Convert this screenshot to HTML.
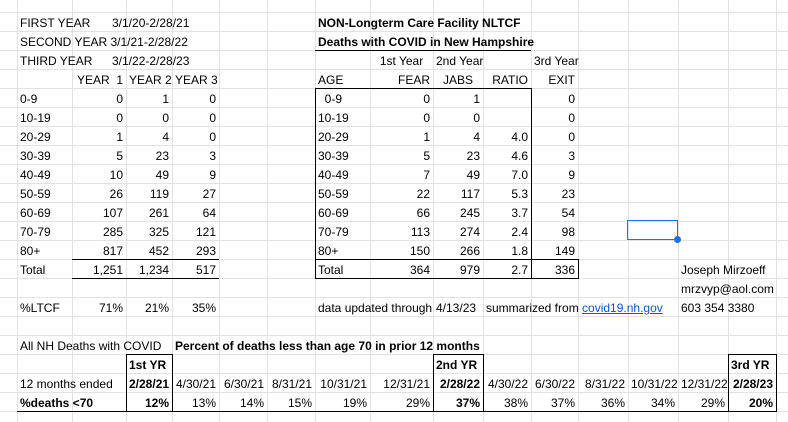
<!DOCTYPE html>
<html><head><meta charset="utf-8">
<style>
html,body{margin:0;padding:0;background:#fff;}
body{width:788px;height:422px;position:relative;overflow:hidden;font-family:"Liberation Sans",Arial,sans-serif;font-size:12px;color:#000;}
.v{position:absolute;top:0;height:422px;width:1px;background:#e2e2e2;}
.h{position:absolute;left:0;width:788px;height:1px;background:#e2e2e2;}
.b{position:absolute;background:#000;}
table{position:absolute;left:0;top:2px;border-collapse:collapse;table-layout:fixed;width:788px;}
td{padding:0 3px;height:19px;line-height:19px;white-space:nowrap;overflow:visible;text-align:left;vertical-align:middle;}
td.r{text-align:right;}
td.c{text-align:center;}
.bd{font-weight:bold;}
a{color:#1155cc;text-decoration:underline;}
</style></head><body>
<div class="v" style="left:17px"></div><div class="v" style="left:72px"></div><div class="v" style="left:126px"></div><div class="v" style="left:172px"></div><div class="v" style="left:219px"></div><div class="v" style="left:267px"></div><div class="v" style="left:315px"></div><div class="v" style="left:370px"></div><div class="v" style="left:433px"></div><div class="v" style="left:483px"></div><div class="v" style="left:531px"></div><div class="v" style="left:578px"></div><div class="v" style="left:628px"></div><div class="v" style="left:678px"></div><div class="v" style="left:728px"></div><div class="v" style="left:776px"></div>
<div class="h" style="top:12px"></div><div class="h" style="top:31px"></div><div class="h" style="top:50px"></div><div class="h" style="top:69px"></div><div class="h" style="top:88px"></div><div class="h" style="top:107px"></div><div class="h" style="top:126px"></div><div class="h" style="top:145px"></div><div class="h" style="top:164px"></div><div class="h" style="top:183px"></div><div class="h" style="top:202px"></div><div class="h" style="top:221px"></div><div class="h" style="top:240px"></div><div class="h" style="top:259px"></div><div class="h" style="top:278px"></div><div class="h" style="top:297px"></div><div class="h" style="top:316px"></div><div class="h" style="top:335px"></div><div class="h" style="top:354px"></div><div class="h" style="top:373px"></div><div class="h" style="top:392px"></div><div class="h" style="top:411px"></div>

<table>
<colgroup><col style="width:17px"><col style="width:55px"><col style="width:54px"><col style="width:46px"><col style="width:47px"><col style="width:48px"><col style="width:48px"><col style="width:55px"><col style="width:63px"><col style="width:50px"><col style="width:48px"><col style="width:47px"><col style="width:50px"><col style="width:50px"><col style="width:50px"><col style="width:48px"><col style="width:12px"></colgroup>
<tr><td colspan="17" style="height:12px;line-height:12px"></td></tr>
<tr><td></td><td colspan="5">FIRST YEAR <span style="position:absolute;left:112px">3/1/20-2/28/21</span></td><td></td><td colspan="5" class="bd">NON-Longterm Care Facility NLTCF</td><td colspan="5"></td></tr>
<tr><td></td><td colspan="5">SECOND YEAR 3/1/21-2/28/22</td><td></td><td colspan="5" class="bd">Deaths with COVID in New Hampshire</td><td colspan="5"></td></tr>
<tr><td></td><td colspan="5">THIRD YEAR <span style="position:absolute;left:112px">3/1/22-2/28/23</span></td><td></td><td></td><td class="c">1st Year</td><td>2nd Year</td><td></td><td>3rd Year</td><td colspan="5"></td></tr>
<tr><td></td><td></td><td class="r">YEAR&nbsp; 1</td><td class="r">YEAR 2</td><td class="r">YEAR 3</td><td></td><td></td><td>AGE</td><td class="r">FEAR</td><td class="c">JABS</td><td class="r">RATIO</td><td class="r">EXIT</td><td colspan="5"></td></tr>
<tr><td></td><td>0-9</td><td class="r">0</td><td class="r">1</td><td class="r">0</td><td></td><td></td><td>&nbsp;&nbsp;0-9</td><td class="r">0</td><td class="r">1</td><td class="r"></td><td class="r">0</td><td colspan="5"></td></tr>
<tr><td></td><td>10-19</td><td class="r">0</td><td class="r">0</td><td class="r">0</td><td></td><td></td><td>10-19</td><td class="r">0</td><td class="r">0</td><td class="r"></td><td class="r">0</td><td colspan="5"></td></tr>
<tr><td></td><td>20-29</td><td class="r">1</td><td class="r">4</td><td class="r">0</td><td></td><td></td><td>20-29</td><td class="r">1</td><td class="r">4</td><td class="r">4.0</td><td class="r">0</td><td colspan="5"></td></tr>
<tr><td></td><td>30-39</td><td class="r">5</td><td class="r">23</td><td class="r">3</td><td></td><td></td><td>30-39</td><td class="r">5</td><td class="r">23</td><td class="r">4.6</td><td class="r">3</td><td colspan="5"></td></tr>
<tr><td></td><td>40-49</td><td class="r">10</td><td class="r">49</td><td class="r">9</td><td></td><td></td><td>40-49</td><td class="r">7</td><td class="r">49</td><td class="r">7.0</td><td class="r">9</td><td colspan="5"></td></tr>
<tr><td></td><td>50-59</td><td class="r">26</td><td class="r">119</td><td class="r">27</td><td></td><td></td><td>50-59</td><td class="r">22</td><td class="r">117</td><td class="r">5.3</td><td class="r">23</td><td colspan="5"></td></tr>
<tr><td></td><td>60-69</td><td class="r">107</td><td class="r">261</td><td class="r">64</td><td></td><td></td><td>60-69</td><td class="r">66</td><td class="r">245</td><td class="r">3.7</td><td class="r">54</td><td colspan="5"></td></tr>
<tr><td></td><td>70-79</td><td class="r">285</td><td class="r">325</td><td class="r">121</td><td></td><td></td><td>70-79</td><td class="r">113</td><td class="r">274</td><td class="r">2.4</td><td class="r">98</td><td colspan="5"></td></tr>
<tr><td></td><td>80+</td><td class="r">817</td><td class="r">452</td><td class="r">293</td><td></td><td></td><td>80+</td><td class="r">150</td><td class="r">266</td><td class="r">1.8</td><td class="r">149</td><td colspan="5"></td></tr>
<tr><td></td><td>Total</td><td class="r">1,251</td><td class="r">1,234</td><td class="r">517</td><td></td><td></td><td>Total</td><td class="r">364</td><td class="r">979</td><td class="r">2.7</td><td class="r">336</td><td></td><td></td><td colspan="2">Joseph Mirzoeff</td><td></td></tr>
<tr><td colspan="14"></td><td colspan="2">mrzvyp@aol.com</td><td></td></tr>
<tr><td></td><td>%LTCF</td><td class="r">71%</td><td class="r">21%</td><td class="r">35%</td><td></td><td></td><td colspan="2">data updated through</td><td>4/13/23</td><td colspan="3">summarized from <a>covid19.nh.gov</a></td><td></td><td colspan="2">603 354 3380</td><td></td></tr>
<tr><td colspan="17"></td></tr>
<tr><td></td><td colspan="3">All NH Deaths with COVID</td><td colspan="8" class="bd">Percent of deaths less than age 70 in prior 12 months</td><td colspan="5"></td></tr>
<tr><td></td><td></td><td></td><td class="bd">1st YR</td><td colspan="5"></td><td class="bd">2nd YR</td><td colspan="5"></td><td class="bd">3rd YR</td><td></td></tr>
<tr><td></td><td colspan="2">12 months ended</td><td class="r bd">2/28/21</td><td class="r">4/30/21</td><td class="r">6/30/21</td><td class="r">8/31/21</td><td class="r">10/31/21</td><td class="r">12/31/21</td><td class="r bd">2/28/22</td><td class="r">4/30/22</td><td class="r">6/30/22</td><td class="r">8/31/22</td><td class="r">10/31/22</td><td class="r">12/31/22</td><td class="r bd">2/28/23</td><td></td></tr>
<tr><td></td><td colspan="2" class="bd">%deaths &lt;70</td><td class="r bd">12%</td><td class="r">13%</td><td class="r">14%</td><td class="r">15%</td><td class="r">19%</td><td class="r">29%</td><td class="r bd">37%</td><td class="r">38%</td><td class="r">37%</td><td class="r">36%</td><td class="r">34%</td><td class="r">29%</td><td class="r bd">20%</td><td></td></tr>
</table>

<div class="b" style="left:72px;top:259px;width:147px;height:1px"></div>
<div class="b" style="left:72px;top:278px;width:147px;height:1px"></div>
<div class="b" style="left:315px;top:50px;width:216px;height:1px"></div>
<div class="b" style="left:315px;top:88px;width:216px;height:1px"></div>
<div class="b" style="left:315px;top:88px;width:1px;height:191px"></div>
<div class="b" style="left:531px;top:88px;width:1px;height:191px"></div>
<div class="b" style="left:315px;top:259px;width:264px;height:1px"></div>
<div class="b" style="left:315px;top:278px;width:264px;height:1px"></div>
<div class="b" style="left:578px;top:259px;width:1px;height:20px"></div>
<div class="b" style="left:17px;top:411px;width:760px;height:1px"></div>
<div class="b" style="left:126px;top:354px;width:47px;height:1px"></div>
<div class="b" style="left:126px;top:354px;width:1px;height:58px"></div>
<div class="b" style="left:172px;top:354px;width:1px;height:58px"></div>
<div class="b" style="left:433px;top:354px;width:51px;height:1px"></div>
<div class="b" style="left:433px;top:354px;width:1px;height:58px"></div>
<div class="b" style="left:483px;top:354px;width:1px;height:58px"></div>
<div class="b" style="left:728px;top:354px;width:49px;height:1px"></div>
<div class="b" style="left:728px;top:354px;width:1px;height:58px"></div>
<div class="b" style="left:776px;top:354px;width:1px;height:58px"></div>
<div style="position:absolute;left:627px;top:220px;width:49px;height:18px;border:1px solid #1a73e8;"></div>
<div style="position:absolute;left:674px;top:236px;width:7px;height:7px;border-radius:50%;background:#1a73e8;"></div>
</body></html>
